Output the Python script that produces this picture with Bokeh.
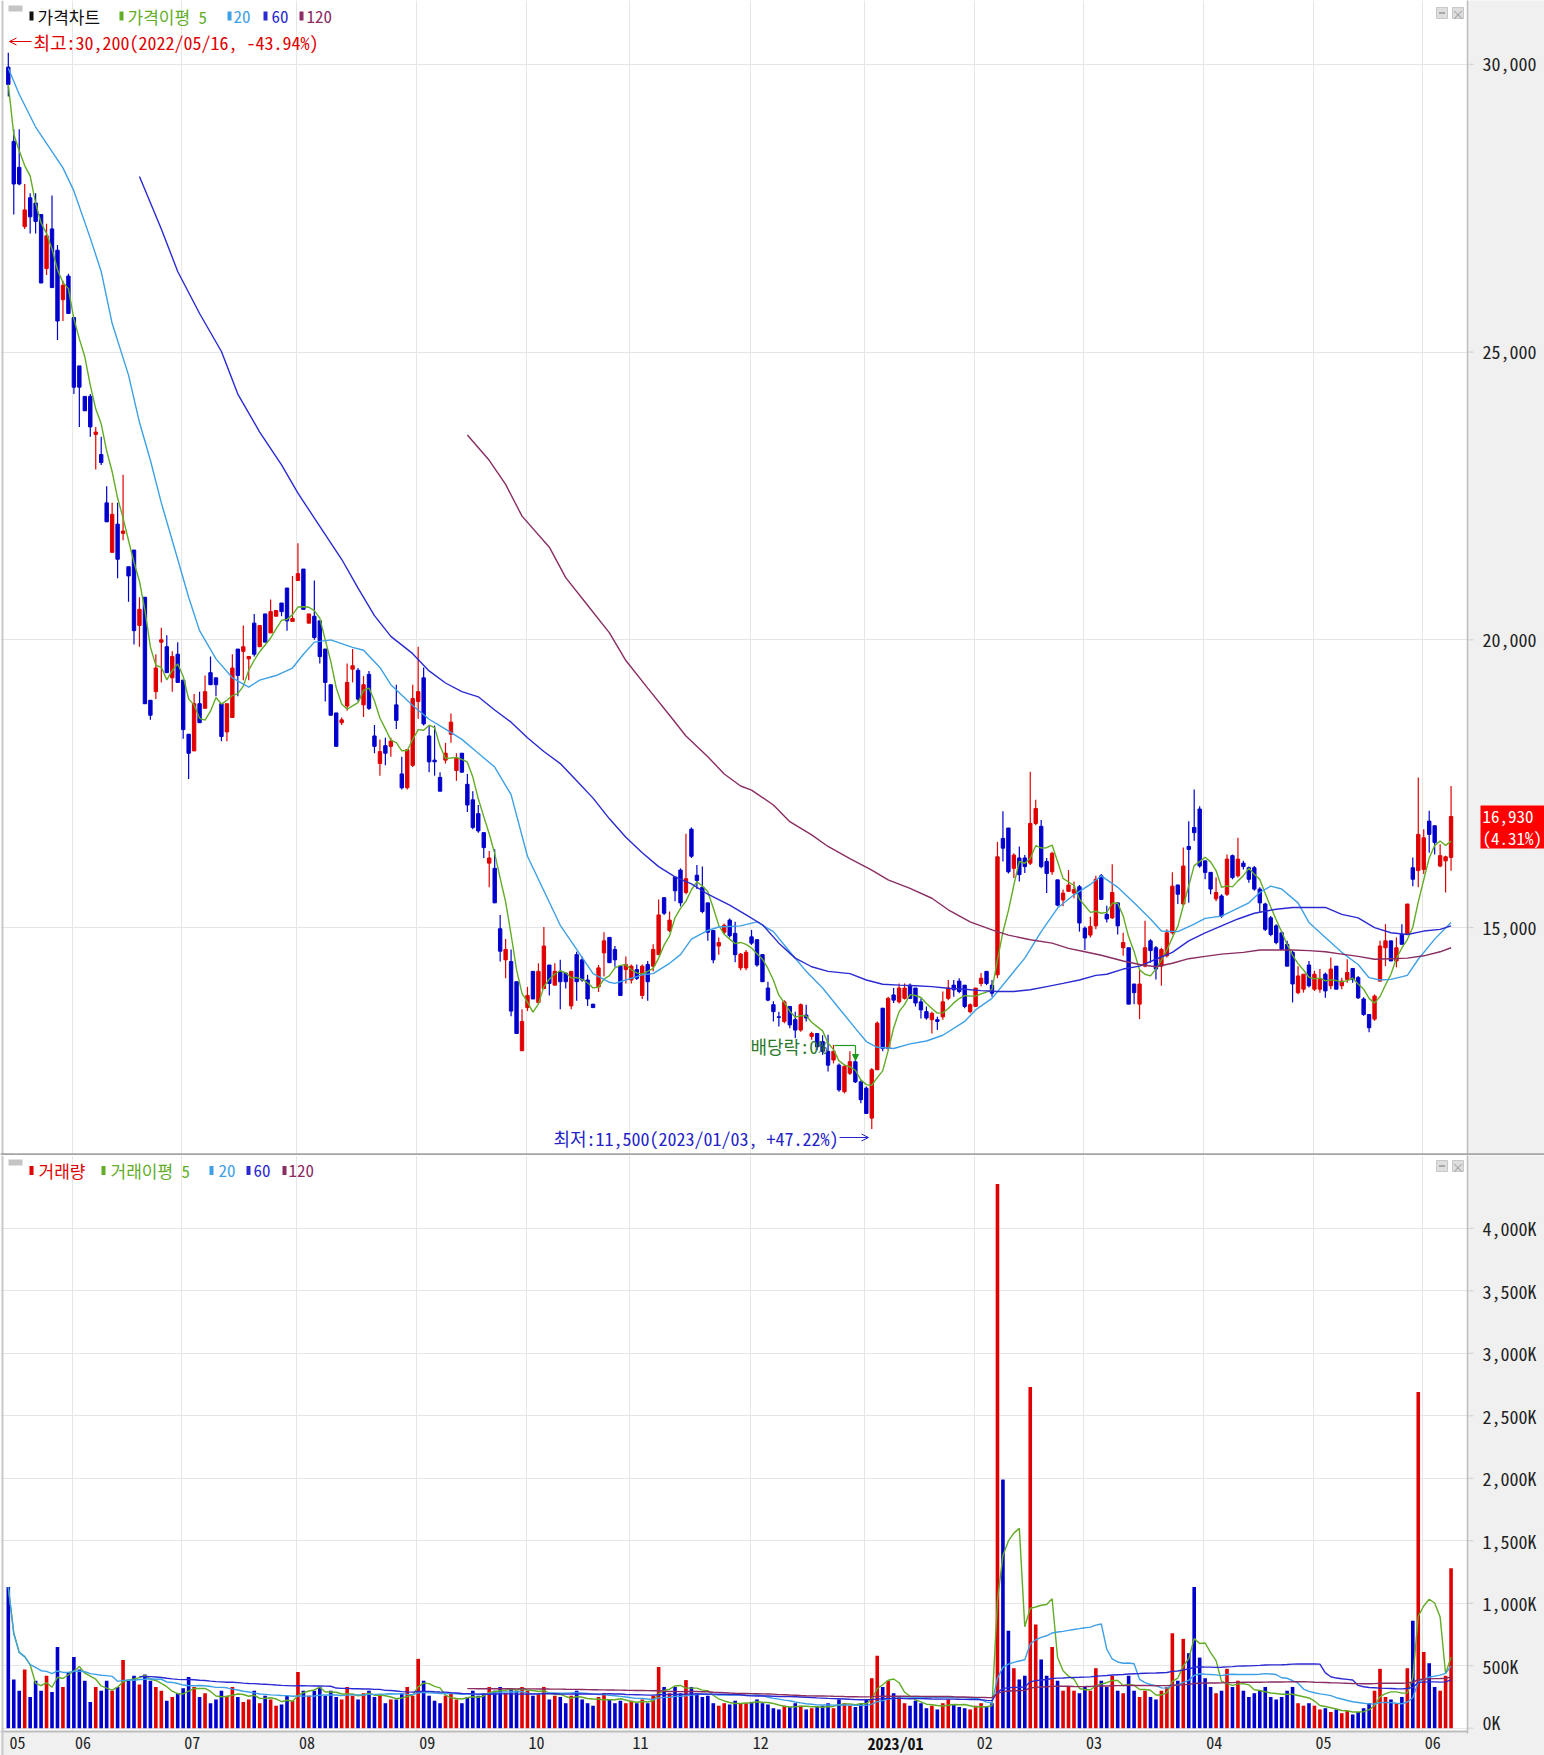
import pandas as pd
from bokeh.plotting import figure
from bokeh.layouts import column
from bokeh.models import (Range1d, FixedTicker, Label, BoxAnnotation, Arrow, OpenHead,
                          NormalHead, ColumnDataSource, Span)
from bokeh.core.properties import value
from bokeh.embed import file_html
from bokeh.resources import INLINE

# ---------------- data ----------------
month_start = [0, 12, 32, 53, 75, 95, 114, 136, 157, 177, 197, 219, 239, 259]
month_label = ["05", "06", "07", "08", "09", "10", "11", "12", "2023/01", "02", "03", "04", "05", "06"]
price_ticks = [15000, 20000, 25000, 30000]
vol_ticks = [0, 500, 1000, 1500, 2000, 2500, 3000, 3500, 4000]
vol_tick_labels = ["0K", "500K", "1,000K", "1,500K", "2,000K", "2,500K", "3,000K", "3,500K", "4,000K"]
last_price_text = ["16,930", "(4.31%)"]

open_ = [
    29950, 28660, 28210, 27180, 27680, 27590, 27390, 26450, 27140, 26770,
    25910, 26320, 25600, 24760, 24230, 24230, 23570, 23220, 22380, 21520,
    22010, 21850, 21270, 21560, 20250, 20740, 18950, 19100, 19960, 19880,
    19340, 19750, 19300, 18360, 18070, 18890, 18810, 19430, 19340, 18890,
    18400, 18650, 19840, 19800, 19670, 20290, 19880, 20450, 20120, 20410,
    20640, 20900, 20320, 21030, 21230, 20290, 20410, 20330, 19840, 19220,
    18730, 18560, 18850, 19490, 19470, 18870, 19400, 18330, 17850, 18160,
    18150, 18870, 17670, 17430, 17820, 18930, 19340, 18330, 17910, 17610,
    17910, 18360, 17730, 18030, 17490, 17220, 16980, 16650, 16120, 16030,
    14980, 14440, 14410, 14060, 12860, 13610, 14240, 13700, 13940, 14350,
    14000, 14240, 14210, 13640, 14530, 14440, 14090, 13670, 13970, 14560,
    14830, 14620, 14330, 14270, 14090, 14270, 13820, 14360, 14330, 14530,
    15520, 14950, 15880, 16000, 15610, 16710, 15910, 15700, 15430, 14950,
    14680, 14920, 15130, 14900, 14300, 14300, 14840, 14790, 14530, 13950,
    13660, 13450, 13370, 13630, 13400, 13220, 13480, 13110, 13160, 13020,
    12850, 12700, 12610, 12150, 12470, 12670, 12320, 12210, 11690, 12530,
    13600, 12900, 13830, 13710, 13770, 14000, 13950, 13710, 13540, 13400,
    13400, 13450, 13770, 14000, 14070, 14000, 13540, 13630, 14030, 14240,
    14000, 14180, 16550, 16730, 16030, 16210, 16210, 16120, 16810, 16760,
    16150, 15970, 15830, 15480, 15630, 15600, 15710, 14990, 14870, 15030,
    15900, 15230, 15170, 15430, 14650, 14650, 14020, 13670, 14330, 14770,
    14650, 14330, 14510, 14910, 15740, 15410, 16410, 16740, 17060, 16160,
    15960, 15500, 15550, 15580, 16250, 15900, 16120, 16040, 16040, 15670,
    15410, 15170, 15030, 14910, 14710, 14570, 13870, 13930, 14350, 13930,
    13930, 14190, 13990, 14330, 13990, 14100, 14290, 14130, 13760, 13490,
    13410, 14070, 14650, 14770, 14420, 14880, 14880, 16040, 15990, 16010,
    16850, 16770, 16070, 16160, 16220,
]
high_ = [
    30200, 28870, 28870, 27920, 27760, 27760, 27390, 27230, 27720, 26860,
    26240, 26360, 25600, 24760, 24230, 24270, 23700, 23530, 22670, 22380,
    22380, 22870, 21270, 21560, 20740, 20740, 18950, 19750, 20210, 20080,
    19800, 19960, 19300, 18360, 19060, 19100, 19380, 19710, 19340, 18890,
    18890, 19750, 19840, 20250, 19710, 20450, 20250, 20450, 20700, 20510,
    20640, 20900, 21110, 21680, 21230, 20450, 21030, 20330, 19840, 19220,
    18730, 18650, 19590, 19840, 19510, 19370, 19460, 18520, 18270, 18300,
    18300, 19220, 17970, 18090, 19220, 19880, 19520, 18510, 18510, 17700,
    18210, 18720, 18030, 18030, 17670, 17370, 17130, 16650, 16330, 16360,
    15220, 14800, 14620, 14060, 13580, 13970, 14240, 14380, 15010, 14350,
    14380, 14440, 14210, 14240, 14580, 14500, 14180, 13670, 14350, 14920,
    14830, 14680, 14330, 14500, 14360, 14360, 14360, 14420, 14710, 15490,
    15520, 15280, 15880, 16030, 16630, 16740, 16090, 16060, 15430, 14950,
    14830, 15070, 15160, 15100, 14560, 14610, 14960, 14790, 14530, 14060,
    13720, 13540, 13740, 13630, 13540, 13680, 13660, 13190, 13160, 13130,
    13140, 12960, 12640, 12610, 12850, 12700, 12350, 12240, 12560, 13370,
    13600, 13800, 13950, 14030, 14030, 14030, 13950, 13770, 13630, 13540,
    13450, 13890, 14090, 14090, 14120, 14000, 13680, 13950, 14210, 14240,
    14090, 16490, 17020, 16730, 16290, 16410, 16260, 17710, 17220, 16870,
    16210, 16320, 15830, 15660, 16000, 15800, 15740, 15020, 15190, 15900,
    15930, 15380, 16100, 15430, 14910, 14650, 14020, 14280, 15120, 14800,
    14680, 14650, 14970, 15960, 15750, 16390, 16850, 17400, 17110, 16160,
    15960, 15870, 15580, 16270, 16270, 16560, 16160, 16060, 16070, 15700,
    15430, 15200, 15060, 14940, 14770, 14600, 14330, 14190, 14420, 14250,
    14280, 14220, 14480, 14330, 14130, 14450, 14300, 14160, 13790, 13490,
    13840, 14770, 15060, 14770, 14830, 15060, 15410, 16220, 17610, 16710,
    17030, 16770, 16450, 16250, 17460,
]
low_ = [
    29440, 27390, 27900, 27140, 27060, 27060, 26200, 26340, 26120, 25210,
    25540, 25670, 24270, 23700, 23980, 23530, 22960, 23040, 22050, 21520,
    21070, 21730, 20660, 19920, 19880, 18890, 18610, 18970, 19260, 19430,
    19100, 19260, 18280, 17580, 18070, 18560, 18810, 19220, 19020, 18240,
    18240, 18650, 19020, 19300, 19300, 19710, 19880, 19960, 20120, 20410,
    20410, 20160, 20320, 21030, 20530, 20290, 20000, 19590, 18930, 18690,
    18150, 18520, 18770, 19260, 18930, 18660, 18780, 18030, 17640, 17820,
    17970, 18450, 17400, 17400, 17790, 18630, 18510, 17700, 17640, 17370,
    17850, 18210, 17550, 17700, 17010, 16710, 16650, 16210, 15700, 15430,
    14410, 14120, 13460, 13160, 12860, 13550, 13760, 13670, 13940, 13820,
    14000, 13580, 13940, 13580, 13730, 14060, 13640, 13610, 13880, 14150,
    14390, 14320, 13820, 14030, 14030, 14090, 13760, 13730, 14240, 14530,
    15220, 14920, 15460, 15370, 15580, 16210, 15670, 15250, 14770, 14380,
    14530, 14890, 14830, 14400, 14260, 14260, 14700, 14320, 14060, 13720,
    13370, 13280, 13340, 13250, 13080, 13190, 13370, 13050, 12870, 12790,
    12500, 12640, 12150, 12120, 12440, 12300, 11950, 11770, 11500, 12530,
    12850, 12870, 13690, 13680, 13750, 13770, 13630, 13420, 13400, 13160,
    13220, 13400, 13740, 13800, 13860, 13600, 13510, 13630, 13980, 14000,
    13800, 14120, 16150, 15940, 15860, 15800, 15950, 16090, 16780, 16030,
    15600, 15920, 15370, 15370, 15630, 15510, 14930, 14610, 14830, 14970,
    15490, 15090, 15150, 14880, 14510, 13670, 13670, 13410, 14310, 14390,
    14100, 13990, 14480, 14880, 15410, 15380, 15430, 16510, 16040, 15840,
    15580, 15460, 15170, 15550, 15840, 15870, 16010, 15780, 15640, 15260,
    14940, 14850, 14710, 14620, 14330, 13700, 13840, 13870, 13960, 13900,
    13870, 13780, 13930, 13930, 13930, 14040, 14040, 13760, 13470, 13180,
    13380, 14070, 14330, 14420, 14310, 14710, 14880, 15720, 15700, 15930,
    16300, 16270, 16050, 15610, 15990,
]
close_ = [
    29650, 27920, 27920, 27470, 27350, 27270, 26200, 27020, 26120, 25540,
    26160, 25670, 24390, 24390, 23980, 23700, 23610, 23080, 22050, 22180,
    21400, 21890, 21110, 20160, 20530, 18890, 18690, 19510, 20000, 19430,
    19710, 19260, 18440, 18030, 18890, 18560, 19100, 19220, 19220, 18320,
    18890, 19510, 19380, 19880, 19710, 19750, 20250, 19960, 20490, 20510,
    20490, 20330, 20370, 21150, 20530, 20450, 20040, 19710, 19260, 18690,
    18150, 18610, 19260, 19550, 18970, 19220, 18810, 18150, 18060, 18030,
    18240, 18600, 17430, 18090, 18980, 19100, 18540, 17880, 17880, 17370,
    18030, 18570, 17940, 17700, 17130, 16740, 16680, 16390, 16210, 15430,
    14590, 14620, 13550, 13160, 13370, 13820, 13760, 14240, 14680, 14030,
    14240, 14060, 14060, 14240, 14060, 14090, 13760, 13610, 14300, 14770,
    14390, 14440, 13820, 14360, 14330, 14120, 14330, 14060, 14620, 15220,
    15250, 15130, 15640, 15430, 15850, 16240, 15820, 15280, 14920, 14440,
    14740, 15040, 14860, 14530, 14540, 14570, 14730, 14350, 14060, 13740,
    13540, 13440, 13710, 13310, 13220, 13660, 13430, 13160, 12930, 12850,
    12610, 12850, 12180, 12590, 12670, 12320, 12010, 11770, 12530, 13340,
    12900, 13770, 13740, 13950, 13950, 13770, 13690, 13570, 13430, 13510,
    13370, 13710, 13950, 13920, 13890, 13630, 13660, 13950, 14120, 14030,
    13860, 16230, 16380, 15970, 16260, 15920, 16060, 16810, 17070, 16060,
    15940, 16290, 15390, 15600, 15740, 15660, 15080, 14820, 15020, 15840,
    15490, 15150, 15610, 15030, 14740, 13670, 13870, 14020, 14650, 14600,
    14280, 14620, 14910, 15720, 15580, 16070, 16360, 16650, 16070, 15960,
    15670, 15610, 15200, 16190, 15870, 16190, 16060, 15840, 15670, 15430,
    14970, 14880, 14740, 14620, 14330, 14020, 14160, 14190, 13990, 14190,
    14100, 13900, 14280, 13930, 14070, 14220, 14100, 13780, 13490, 13260,
    13810, 14680, 14770, 14420, 14650, 14710, 15410, 15840, 16620, 16560,
    16620, 16480, 16250, 16230, 16930,
]
volume_k = [
    1130, 390, 300, 470, 250, 380, 300, 420, 290, 650, 330, 450,
    570, 470, 380, 210, 330, 300, 380, 300, 330, 545, 380, 420, 350, 430, 380, 330, 300, 220, 250, 280,
    320, 410, 330, 250, 280, 200, 230, 300, 260, 330, 250, 210, 230, 300, 200, 260, 230, 180, 190, 260, 220,
    450, 300, 260, 300, 330, 260, 300, 250, 230, 330, 260, 230, 280, 300, 250, 270, 200, 230, 230, 280, 330, 260,
    555, 380, 260, 220, 200, 260, 280, 230, 200, 250, 300, 260, 280, 330, 300, 330, 280, 320, 300, 330,
    300, 260, 280, 330, 230, 260, 250, 200, 260, 300, 230, 200, 180, 250, 280, 230, 200, 220, 200,
    220, 200, 230, 200, 260, 490, 330, 280, 330, 280, 385, 330, 280, 250, 260, 200, 180, 200, 190, 220, 200, 200,
    210, 230, 200, 190, 160, 150, 180, 170, 200, 180, 150, 160, 170, 180, 200, 160, 230, 200, 180, 170, 200,
    230, 400, 580, 330, 380, 280, 250, 200, 180, 220, 200, 160, 180, 150, 200, 230, 190, 170, 160, 150,
    180, 200, 170, 200, 4355, 1990, 780, 480, 390, 420, 2730, 830, 550, 420, 650, 380, 300, 330, 300, 280,
    330, 300, 480, 380, 330, 420, 300, 280, 420, 300, 250, 300, 250, 230, 300, 330, 760, 380, 715, 600, 1130, 565,
    400, 330, 280, 300, 475, 330, 380, 300, 250, 280, 300, 330, 250, 230, 250, 300, 330, 200, 180, 200,
    180, 150, 160, 130, 150, 120, 140, 110, 130, 160, 200, 300, 475, 250, 230, 200, 250, 480, 860, 2690,
    610, 520, 330, 300, 420, 1280,
]

ma20_x = [0, 2, 5, 10, 12, 15, 17, 19, 22, 24, 26, 28, 31, 33, 35, 38, 41, 44, 46, 49,
          52, 54, 56, 59, 63, 65, 68, 70, 74, 77, 80, 83, 86, 89, 92, 95, 98, 101, 104, 107,
          110, 111, 113, 116, 118, 121, 123, 125, 128, 130, 134, 137, 140, 143, 146, 149, 152, 155, 157, 159,
          162, 165, 168, 171, 175, 177, 180, 183, 186, 189, 192, 195, 198, 200, 203, 206, 209, 211, 214, 217,
          219, 222, 224, 227, 229, 231, 233, 236, 238, 241, 244, 247, 249, 251, 253, 256, 258, 261, 264]
ma20_v = [29930, 29480, 28910, 28200, 27800, 26980, 26400, 25500, 24600, 23780,
          23120, 22380, 21400, 20740, 20160, 19670, 19340, 19180, 19300, 19380,
          19510, 19750, 19960, 20000, 19870, 19820, 19520, 19220, 18860, 18620,
          18450, 18270, 18030, 17790, 17310, 16240, 15640, 15040, 14620, 14200,
          14050, 14030, 14090, 14180, 14200, 14380, 14530, 14800, 14950, 15010,
          15030, 15100, 14930, 14580, 14240, 13950, 13600, 13250, 13020, 12920,
          12900, 12980, 13030, 13130, 13370, 13570, 13770, 14120, 14470, 14930,
          15340, 15570, 15750, 15900, 15700, 15430, 15150, 14940, 14930, 15060,
          15160, 15200, 15290, 15430, 15610, 15720, 15670, 15430, 15090, 14830,
          14570, 14360, 14130, 14090, 14100, 14170, 14450, 14800, 15090]
ma60_x = [24, 28, 31, 35, 39, 42, 46, 50, 53, 57, 61, 64, 67, 70, 74, 77, 80, 83, 86, 89,
          92, 95, 98, 101, 104, 107, 110, 113, 116, 119, 122, 125, 128, 132, 135, 138, 141, 144, 147, 150,
          154, 157, 160, 163, 166, 169, 172, 175, 178, 181, 184, 187, 190, 193, 196, 199, 201, 204, 207, 210,
          213, 216, 219, 222, 225, 228, 232, 235, 238, 241, 244, 247, 250, 253, 256, 259, 262, 264]
ma60_v = [28050, 27140, 26400, 25670, 25010, 24270, 23610, 23040, 22550, 21970,
          21400, 20900, 20420, 20060, 19760, 19460, 19250, 19100, 19010, 18780,
          18570, 18300, 18060, 17850, 17550, 17250, 16890, 16570, 16300, 16060,
          15880, 15760, 15580, 15390, 15220, 15050, 14730, 14470, 14320, 14240,
          14200, 14090, 14015, 14000, 13990, 13975, 13946, 13930, 13905, 13890,
          13890, 13920, 13975, 14030, 14090, 14170, 14190, 14280, 14330, 14450,
          14570, 14770, 14910, 15030, 15150, 15250, 15320, 15350, 15350, 15350,
          15230, 15170, 15000, 14910, 14880, 14940, 14970, 15030]
ma120_x = [84, 88, 91, 94, 99, 102, 106, 110, 113, 117, 121, 124, 128, 131, 134, 136, 140, 143, 147, 150,
           154, 158, 161, 165, 169, 172, 176, 180, 183, 187, 191, 194, 197, 200, 204, 207, 210, 213, 216, 219,
           222, 226, 229, 232, 235, 238, 241, 244, 247, 250, 253, 256, 259, 262, 264]
ma120_v = [23560, 23120, 22700, 22150, 21610, 21080, 20600, 20120, 19640, 19160,
           18690, 18330, 17970, 17670, 17460, 17390, 17130, 16840, 16610, 16410,
           16200, 16000, 15830, 15680, 15510, 15310, 15100, 14960, 14870, 14790,
           14730, 14640, 14580, 14520, 14420, 14360, 14320, 14380, 14460, 14500,
           14540, 14570, 14610, 14610, 14610, 14600, 14580, 14540, 14500, 14450,
           14460, 14470, 14510, 14580, 14650]

# ---------------- styling ----------------
RED = "#E00000"
BLUE = "#0000CD"
C_MA5 = "#62AC26"
C_MA20 = "#3EA0E6"
C_MA60 = "#2A2AD2"
C_MA120 = "#8A2D62"
GRID = "#E6E6E6"
FONT = "Noto Sans Mono CJK KR"
AXIS_BG = "#F0F0F0"
EDGE = "#BDBDBD"

FIG_W = 1544
TOP_H = 1155
VOL_H = 600
AXIS_X = 1467          # page x of the plot / axis boundary


# page-pixel helpers: the figures start at the page's top-left corner
def px(page_x):
    return (page_x - 7.8) / 5.465


def pp(page_y):
    return 30000 - (page_y - 63.8) * 17.375


def pv(page_y):
    return (1727.7 - page_y) * 8.003


n = len(close_)
idx = list(range(n))
colors = [RED if c >= o else BLUE for o, c in zip(open_, close_)]
src = ColumnDataSource(dict(
    x=idx,
    hi=[max(h, o, c) for h, o, c in zip(high_, open_, close_)],
    lo=[min(l, o, c) for l, o, c in zip(low_, open_, close_)],
    top=[max(o, c) for o, c in zip(open_, close_)],
    bot=[min(o, c) for o, c in zip(open_, close_)],
    vol=volume_k,
    color=colors,
))

ma5 = pd.Series(close_, dtype=float).rolling(5, min_periods=1).mean()
vs = pd.Series(volume_k, dtype=float)
vma5 = vs.rolling(5, min_periods=1).mean()
vma20 = vs.rolling(20, min_periods=1).mean()
vma60 = vs.rolling(60, min_periods=1).mean()
vma120 = vs.rolling(120, min_periods=1).mean()

grid_x = [m - 0.25 for m in month_start[1:]]


def make_fig(h, y0, y1):
    f = figure(width=FIG_W, height=h, x_range=Range1d(px(0), px(FIG_W)), y_range=Range1d(y0, y1),
               output_backend="svg", toolbar_location=None, x_axis_location=None,
               y_axis_location=None, min_border=0, min_border_left=0, min_border_right=0,
               min_border_top=0, min_border_bottom=0)
    f.background_fill_color = "white"
    f.border_fill_color = AXIS_BG
    f.outline_line_color = None
    f.xgrid.ticker = FixedTicker(ticks=grid_x)
    f.xgrid.grid_line_color = GRID
    f.ygrid.grid_line_color = GRID
    return f


def right_axis(f, yf, ticks, labels, label_y, top_page, bot_page):
    f.quad(left=[px(AXIS_X)], right=[px(FIG_W + 20)], top=[yf(top_page)], bottom=[yf(bot_page)],
           fill_color=AXIS_BG, line_color=None)
    f.segment(x0=[px(AXIS_X)] * len(ticks), y0=ticks, x1=[px(AXIS_X + 6)] * len(ticks), y1=ticks,
              line_color="#CFCFCF", line_width=1)
    f.segment(x0=[px(AXIS_X)], y0=[yf(top_page)], x1=[px(AXIS_X)], y1=[yf(bot_page)],
              line_color=EDGE, line_width=1.5)
    f.text(x=[px(1482)] * len(ticks), y=label_y, text=labels, text_font=value(FONT),
           text_font_size="18px", text_color="#222222", text_baseline="middle", text_align="left")


def lbl(fig, x, y, text, color, size="17px", align="left"):
    fig.add_layout(Label(x=x, y=y, text=text, text_color=color, text_font=FONT,
                         text_font_size=size, text_align=align, text_baseline="middle"))


def box(fig, l, r, t, b, color, yf, line=None):
    fig.add_layout(BoxAnnotation(left=px(l), right=px(r), top=yf(t), bottom=yf(b),
                                 fill_color=color, fill_alpha=1.0, line_color=line,
                                 line_alpha=1.0 if line else 0))


def legend(fig, yf, yc, items, gray_top):
    box(fig, 8, 22, gray_top, gray_top + 6, "#C4C4C4", yf)
    for (bx, tx, text, c) in items:
        box(fig, bx, bx + 4, yc - 4.5, yc + 4.5, c, yf)
        lbl(fig, px(tx), yf(yc), text, c)


def icons(fig, yf, top):
    box(fig, 1436, 1447, top, top + 11, "#DEDEDE", yf, "#C8C8C8")
    box(fig, 1438.5, 1444.5, top + 4.5, top + 6.5, "#A8A8A8", yf)
    box(fig, 1452, 1463, top, top + 11, "#DEDEDE", yf, "#C8C8C8")
    lbl(fig, px(1457.5), yf(top + 5.5), "×", "#A0A0A0", size="13px", align="center")


# ---------------- price panel ----------------
p = make_fig(TOP_H, pp(TOP_H), pp(0))
p.ygrid.ticker = FixedTicker(ticks=price_ticks)

p.segment(x0="x", y0="lo", x1="x", y1="hi", color="color", line_width=1.2, source=src)
p.vbar(x="x", width=0.62, top="top", bottom="bot", fill_color="color", line_color="color",
       line_width=1, source=src)
p.line(idx, ma5, color=C_MA5, line_width=1.4)
p.line(ma20_x, ma20_v, color=C_MA20, line_width=1.4)
p.line(ma60_x, ma60_v, color=C_MA60, line_width=1.4)
p.line(ma120_x, ma120_v, color=C_MA120, line_width=1.4)

right_axis(p, pp, price_ticks, [f"{t:,}" for t in price_ticks], price_ticks, -10, TOP_H + 10)

# last price tag on the axis
p.quad(left=[px(1480)], right=[px(FIG_W + 20)], top=[pp(805)], bottom=[pp(848)],
       fill_color="#FF0000", line_color=None)
p.text(x=[px(1482), px(1482)], y=[close_[-1], pp(836.5)], text=last_price_text,
       text_font=value(FONT), text_font_size="17px", text_color="white",
       text_baseline="middle", text_align="left")

# frame edges
p.add_layout(Span(location=px(2), dimension="height", line_color="#C8C8C8", line_width=2))
p.add_layout(Span(location=pp(1154), dimension="width", line_color="#A4A4A4", line_width=2.5))

legend(p, pp, 15.5, [
    (29, 37, "가격차트", "#111111"),
    (119, 127, "가격이평 5", C_MA5),
    (227, 233, "20", C_MA20),
    (263, 271, "60", C_MA60),
    (299, 306, "120", C_MA120),
], 5)
icons(p, pp, 7)

# highest / lowest / dividend annotations
p.add_layout(Arrow(end=OpenHead(size=7, line_color=RED, line_width=1), x_start=px(31), y_start=pp(41),
                   x_end=px(9), y_end=pp(41), line_color=RED, line_width=1))
lbl(p, px(33), pp(41), "최고:30,200(2022/05/16, -43.94%)", RED, size="18px")

LOWC = "#2323C8"
lbl(p, px(838), pp(1137), "최저:11,500(2023/01/03, +47.22%)", LOWC, size="18px", align="right")
p.add_layout(Arrow(end=OpenHead(size=7, line_color=LOWC, line_width=1), x_start=px(839), y_start=pp(1137),
                   x_end=px(868), y_end=pp(1137), line_color=LOWC, line_width=1))

DIVC = "#2B7A2B"
lbl(p, px(750), pp(1045), "배당락:0%", DIVC, size="18px")
p.add_layout(Arrow(end=None, x_start=px(834), y_start=pp(1045), x_end=px(855), y_end=pp(1045),
                   line_color="#1E9A1E", line_width=1.2))
p.add_layout(Arrow(end=NormalHead(size=6, fill_color="#1E9A1E", line_color="#1E9A1E"),
                   x_start=px(855), y_start=pp(1045), x_end=px(855), y_end=pp(1060),
                   line_color="#1E9A1E", line_width=1.2))

# ---------------- volume panel ----------------
v = make_fig(VOL_H, pv(TOP_H + VOL_H), pv(TOP_H))
v.ygrid.ticker = FixedTicker(ticks=vol_ticks)

v.vbar(x="x", width=0.66, top="vol", bottom=0, fill_color="color", line_color=None, source=src)
v.line(idx, vma5, color=C_MA5, line_width=1.4)
v.line(idx, vma20, color=C_MA20, line_width=1.4)
v.line(idx[24:], vma60[24:], color=C_MA60, line_width=1.4)
v.line(idx[84:], vma120[84:], color=C_MA120, line_width=1.4)

# bottom band for the month labels
v.quad(left=[px(-20)], right=[px(FIG_W + 20)], top=[pv(1731)], bottom=[pv(1770)],
       fill_color=AXIS_BG, line_color=None)
v.segment(x0=[px(0)], y0=[pv(1731)], x1=[px(AXIS_X)], y1=[pv(1731)], line_color=EDGE, line_width=2)
v.add_layout(Span(location=px(2), dimension="height", line_color="#C8C8C8", line_width=2))

vol_label_y = [max(t, pv(1721)) for t in vol_ticks]
right_axis(v, pv, vol_ticks, vol_tick_labels, vol_label_y, TOP_H - 10, 1733)

# month labels (real text, left-aligned on each month's first session)
lab_x = [px(9) if m == 0 else (m - 0.25) + 2.5 / 5.465 for m in month_start]
reg = [k for k, t in enumerate(month_label) if t != "2023/01"]
bold = [k for k, t in enumerate(month_label) if t == "2023/01"]
LAB_Y = pv(1742)
v.text(x=[lab_x[k] for k in reg], y=[LAB_Y] * len(reg), text=[month_label[k] for k in reg],
       text_font=value(FONT), text_font_size="16px", text_color="#222222",
       text_baseline="middle", text_align="left")
v.text(x=[lab_x[k] for k in bold], y=[LAB_Y] * len(bold), text=[month_label[k] for k in bold],
       text_font=value(FONT), text_font_size="16px", text_font_style="bold", text_color="#111111",
       text_baseline="middle", text_align="left")

legend(v, pv, 1170, [
    (29, 38, "거래량", RED),
    (101, 110, "거래이평 5", C_MA5),
    (209, 218, "20", C_MA20),
    (246, 253, "60", C_MA60),
    (282, 288, "120", C_MA120),
], 1159)
icons(v, pv, 1160)

layout = column(p, v, spacing=0)
open("out.html", "w").write(file_html(layout, INLINE))
